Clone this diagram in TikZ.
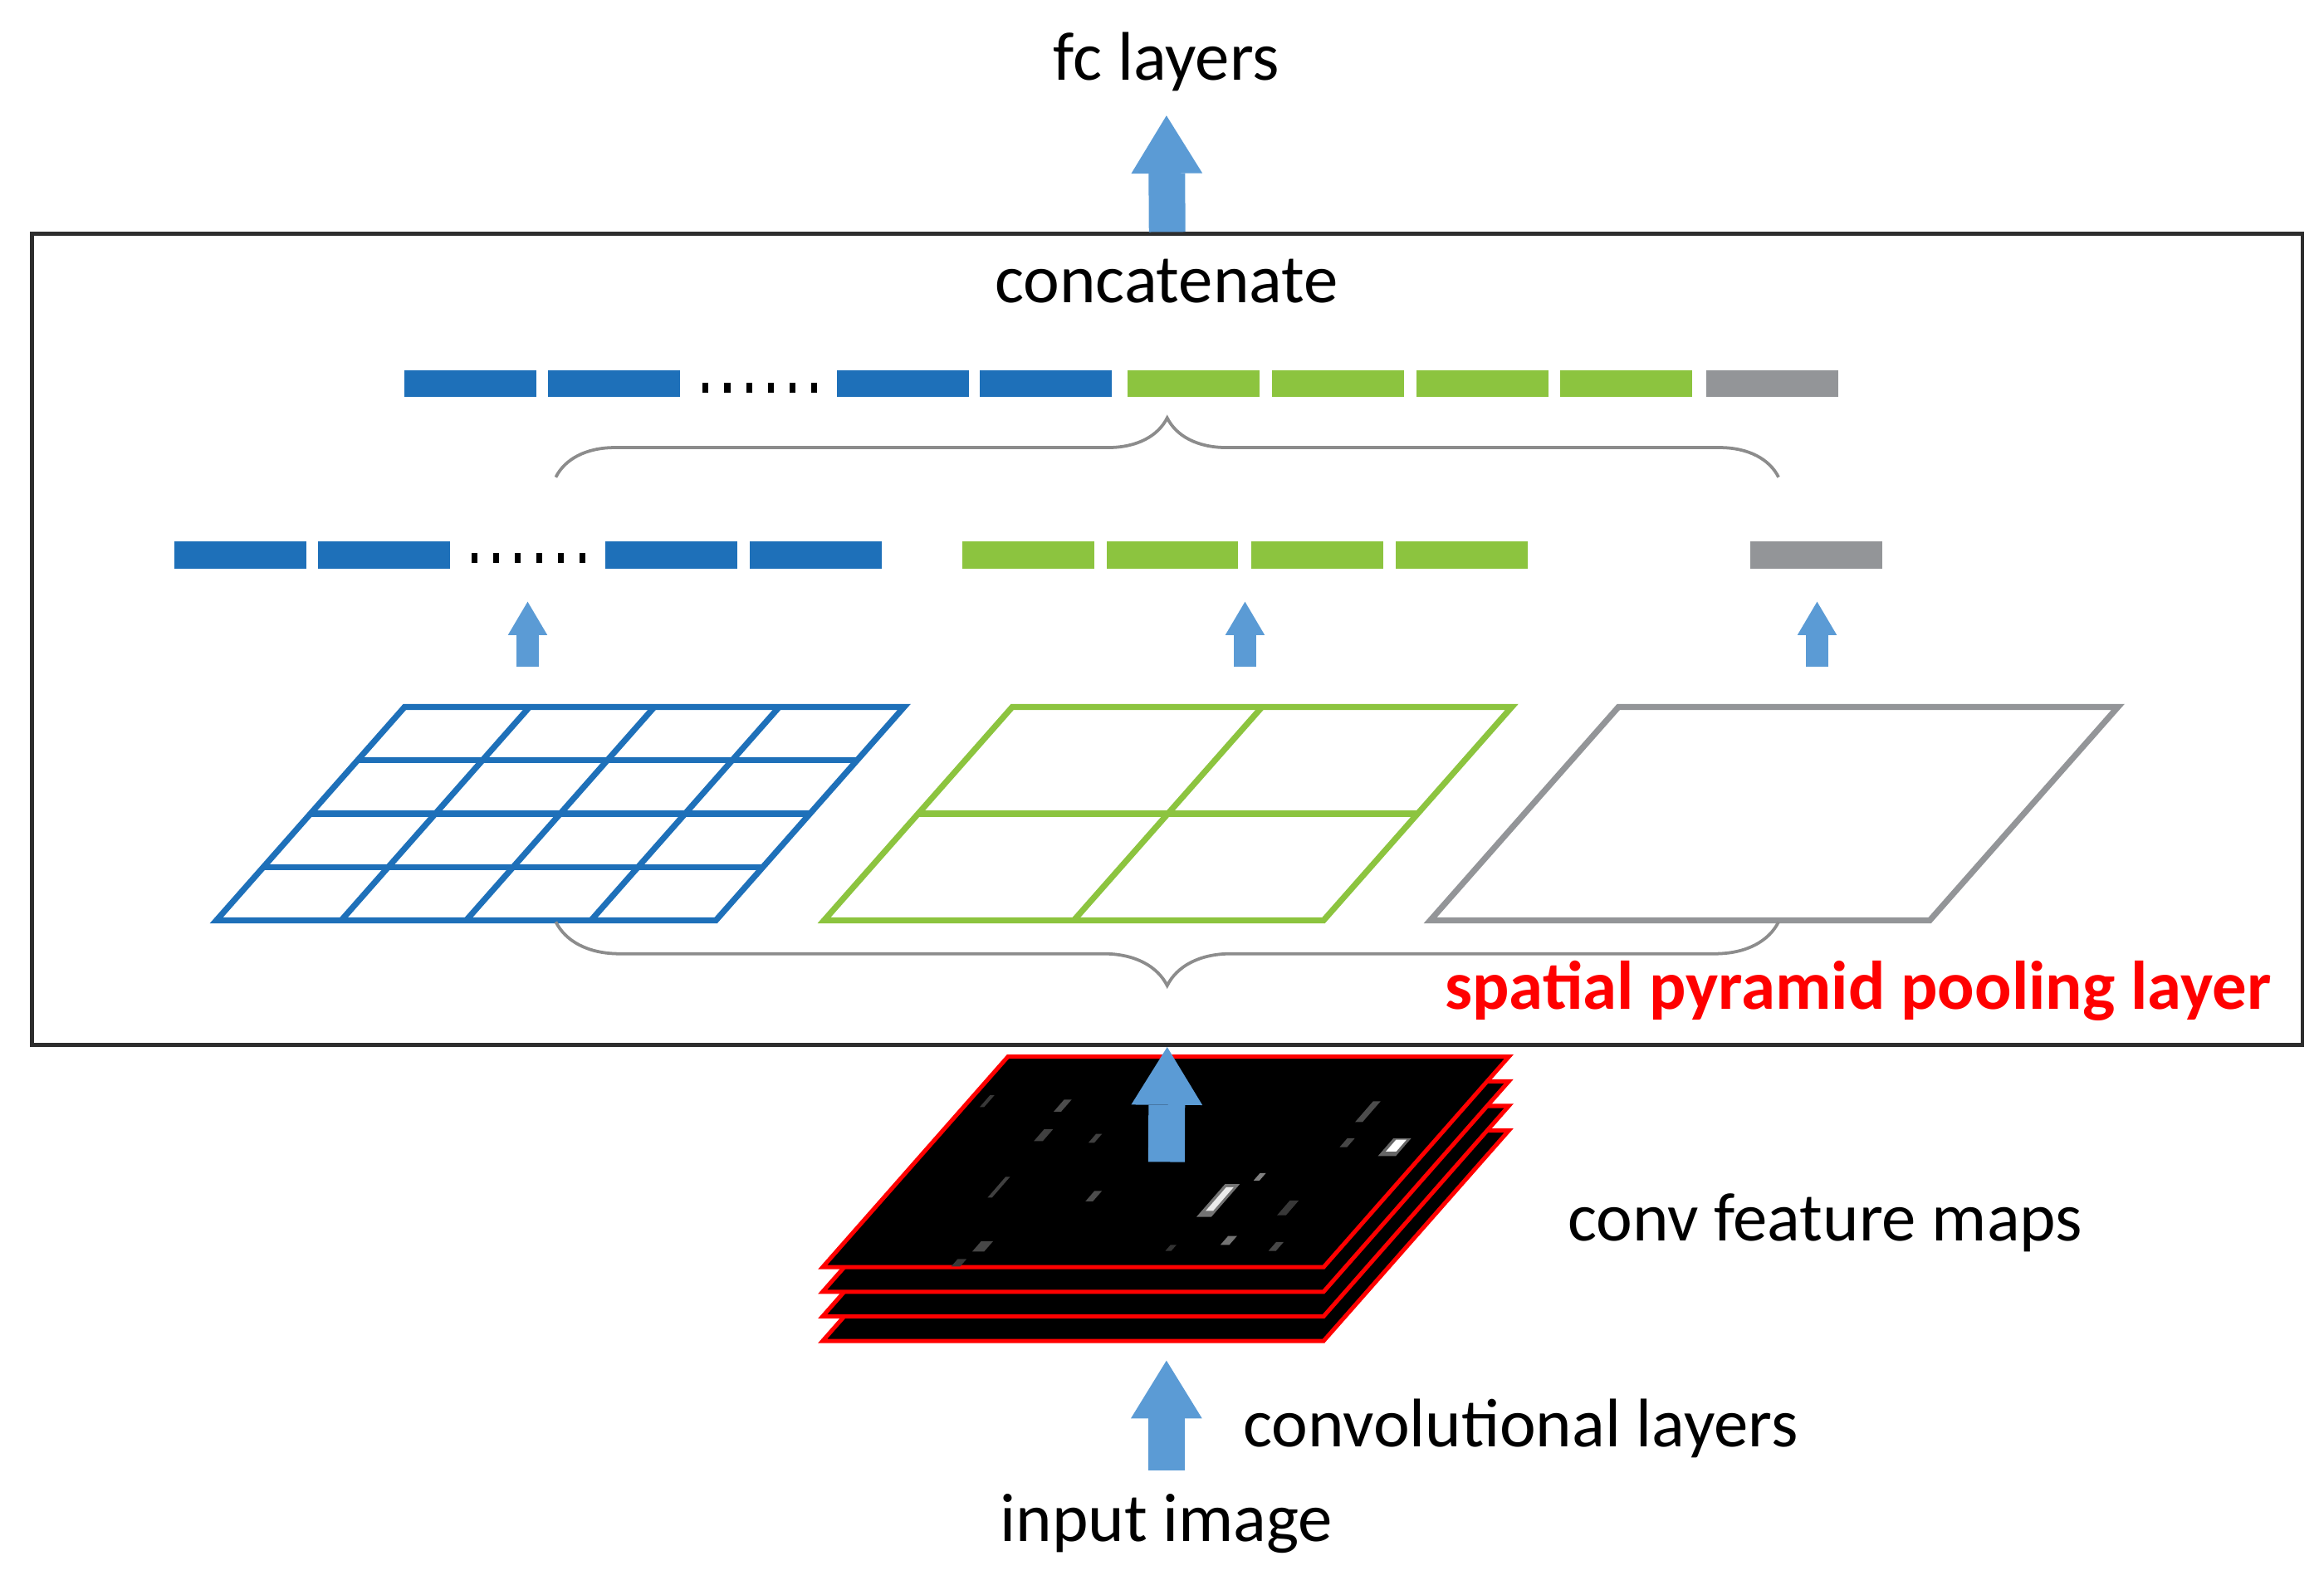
\documentclass[tikz,border=0pt]{standalone}
\usepackage{fontspec}
\setmainfont{Carlito}
\usetikzlibrary{arrows.meta,decorations.pathreplacing}
\definecolor{sppblue}{RGB}{30,112,185}
\definecolor{sppgreen}{RGB}{140,196,63}
\definecolor{sppgray}{RGB}{147,149,152}
\definecolor{arrowblue}{RGB}{91,155,213}
\definecolor{bracegray}{RGB}{140,140,140}
\definecolor{boxgray}{RGB}{45,45,45}
\tikzset{
  lbl/.style={font=\fontsize{13.2}{16}\selectfont,inner sep=0pt},
  redlbl/.style={font=\fontsize{13.2}{16}\selectfont\bfseries,text=red,inner sep=0pt},
  bar/.style={minimum width=0.89cm,minimum height=0.18cm,inner sep=0pt},
  gridline/.style={line width=1.15pt},
  fmap/.style={fill=black,draw=red,line width=0.8pt},
  fatarrow/.style={draw=arrowblue,line width=0.246cm,-{Triangle[length=0.39cm,width=0.48cm,line width=0pt]}},
  thinarrow/.style={draw=arrowblue,line width=0.147cm,-{Triangle[length=0.225cm,width=0.266cm,line width=0pt]}},
  pyrbrace/.style={draw=bracegray,line width=0.6pt,decorate,decoration={brace,amplitude=#1}}
}
\begin{document}
\begin{tikzpicture}[x=0.01cm,y=-0.01cm]
    \useasboundingbox (0,0) rectangle (1568,1072.8);
    % outer box and labels
    \node[draw=boxgray,line width=0.75pt,minimum width=15.31cm,minimum height=5.47cm,inner sep=0pt] (spp) at (787.5,431.5) {};
    \node[lbl,anchor=south,inner ysep=0.16cm] (fc) at (787,78) {fc layers};
    \node[lbl,anchor=base] (concat) at (787,204) {concatenate};
    \node[redlbl,anchor=base east] (spplbl) at (1533,681) {spatial pyramid pooling layer};
    \node[lbl,anchor=base west] (fmaps) at (1057,837) {conv feature maps};
    \node[lbl,anchor=base west] (convl) at (838,976) {convolutional layers};
    \node[lbl,anchor=base] (input) at (787,1040) {input image};
    \draw[fatarrow] (spp.north) -- (fc.south);
    % concatenated vector
    \foreach \x/\c [count=\i] in {317.5/sppblue,414.5/sppblue,609/sppblue,705.5/sppblue,805.5/sppgreen,902.5/sppgreen,1000/sppgreen,1097/sppgreen,1195.5/sppgray}
        \node[bar,fill=\c] (cat\i) at (\x,259) {};
    \foreach \k in {0,...,5} \fill (474+\k*14.7,258) rectangle ++(4,7);
    \draw[pyrbrace=0.4cm] (375,322) -- (1200,322);
    % pooled vectors
    \foreach \x/\c [count=\i] in {162/sppblue,259/sppblue,453/sppblue,550.5/sppblue,694/sppgreen,791/sppgreen,889/sppgreen,986/sppgreen,1225.5/sppgray}
        \node[bar,fill=\c] (bin\i) at (\x,374.5) {};
    \foreach \k in {0,...,5} \fill (318+\k*14.6,373) rectangle ++(4,7);
    \foreach \x [count=\i] in {356,840,1226}{
        \coordinate (gtop\i) at (\x,450);
        \coordinate (btip\i) at (\x,406);
        \draw[thinarrow] (gtop\i) -- (btip\i);
    }
    % pyramid grids 4x4, 2x2, 1x1
    \foreach \gx/\n/\c in {273/4/sppblue,683/2/sppgreen,1092/1/sppgray}{
        \draw[gridline,draw=\c] (\gx,477) -- ++(337,0) -- ++(-127,144) -- ++(-337,0) -- cycle;
        \ifnum\n>1
            \pgfmathtruncatemacro\m{\n-1}
            \foreach \k in {1,...,\m}{
                \draw[gridline,draw=\c] ({\gx-\k*127/\n},{477+\k*144/\n}) -- ++(337,0);
                \draw[gridline,draw=\c] ({\gx+\k*337/\n},477) -- ++(-127,144);
            }
        \fi
    }
    \draw[pyrbrace=0.43cm] (1200,622) -- (375,622);
    % feature maps
    \foreach \k in {3,2,1,0}
        \draw[fmap] (680,{713+\k*16.6}) -- ++(338,0) -- ++(-125,142) -- ++(-338,0) -- cycle;
    \foreach \sx/\sy/\sw/\sh/\sc in {822/810/10/22/white!45!black,823/809/5/16/white!92!black,941/774/12/12/white!40!black,942/773/7/8/white,
        923/750/5/14/white!30!black,717/746/5/8/white!30!black,704/766/6/8/white!25!black,739/768/4/6/white!25!black,
        674/801/3/14/white!25!black,738/807/5/7/white!30!black,850/794/4/5/white!50!black,869/815/6/10/white!22!black,
        829/837/6/6/white!45!black,861/841/5/6/white!28!black,663/841/8/7/white!28!black,647/852/6/5/white!22!black,
        909/771/5/6/white!28!black,790/842/4/4/white!20!black,666/743/3/8/white!22!black}
        \fill[\sc] ({\sx-\sw/2-0.44*\sh},{\sy+\sh/2}) -- ++(\sw,0) -- ++({0.87*\sh},-\sh) -- ++(-\sw,0) -- cycle;
    \coordinate (fmid) at (787,784);
    \draw[fatarrow] (fmid) -- (spp.south);
    \coordinate (inbase) at (787,992);
    \coordinate (ftip) at (787,918);
    \draw[fatarrow] (inbase) -- (ftip);
\end{tikzpicture}
\end{document}
